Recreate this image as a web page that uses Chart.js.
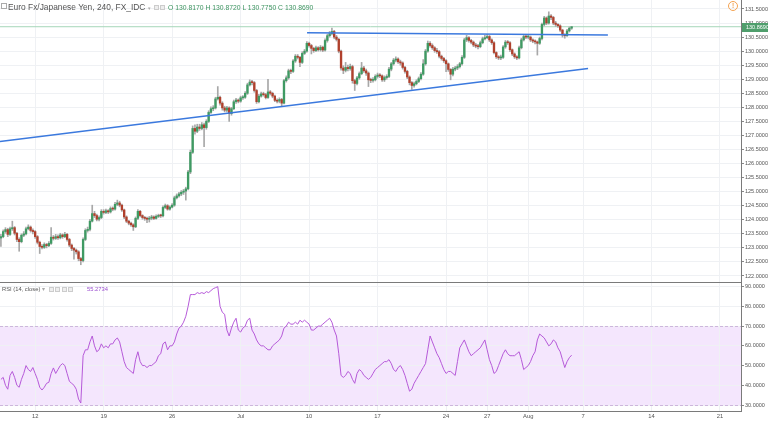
<!DOCTYPE html>
<html>
<head>
<meta charset="utf-8">
<script src="https://cdn.jsdelivr.net/npm/chart.js@4"></script>
<style>
  body{margin:0;background:#fff;width:768px;height:421px;overflow:hidden;position:relative;font-family:'Liberation Sans',Arial,sans-serif;}
  canvas{position:absolute;left:0;}
  #main{top:0;}
  #rsi{top:283px;}
  .t{position:absolute;white-space:nowrap;}
  .box{display:inline-block;width:3px;height:3px;border:1px solid #ccc;background:#eee;margin-left:1.5px;vertical-align:middle;}
</style>
</head>
<body>
<canvas id="main" width="768" height="283"></canvas>
<canvas id="rsi" width="768" height="138"></canvas>

<div class="t" style="left:1px;top:3px;width:4px;height:4px;border:1px solid #aaa;"></div>
<div class="t" style="left:8px;top:2px;font-size:8.4px;color:#555;">Euro Fx/Japanese Yen, 240, FX_IDC <span style="font-size:5px;color:#aaa">&#9662;</span><span class="box" style="margin-left:3px"></span><span class="box"></span></div>
<div class="t" id="ohlc" style="left:168px;top:3.5px;font-size:6.8px;color:#3d9460;"></div>
<div class="t" style="left:728px;top:1px;width:8px;height:8px;border:1px solid #f3a250;border-radius:50%;font-size:6.5px;font-weight:bold;color:#f3a250;text-align:center;line-height:8px;">!</div>

<div class="t" style="left:2px;top:286px;font-size:5.8px;color:#555;">RSI (14, close) <span style="color:#aaa">&#9662;</span><span class="box" style="margin-left:4px"></span><span class="box"></span><span class="box"></span><span class="box"></span></div>
<div class="t" id="rsival" style="left:87px;top:286px;font-size:5.8px;color:#9b4fcf;"></div>

<script>
// EUR/JPY 4h candles, FX_IDC, mid June -> 4 Aug 2017
const firstOpen = 123.35;

const closes = [
123.40,123.58,123.65,123.48,123.68,123.72,123.52,123.30,123.22,123.45,
123.50,123.68,123.74,123.62,123.58,123.40,123.20,123.05,123.02,123.12,
123.08,123.16,123.38,123.34,123.40,123.36,123.46,123.40,123.48,123.30,
123.10,122.98,122.92,122.86,122.62,122.55,123.30,123.62,123.66,123.95,
124.22,124.15,124.02,124.08,124.30,124.26,124.32,124.28,124.40,124.38,
124.55,124.60,124.52,124.35,124.10,123.95,123.88,123.82,123.75,124.05,
124.30,124.15,124.08,124.05,
124.02,124.06,124.10,124.05,124.12,124.15,124.14,124.44,124.50,124.38,
124.45,124.52,124.78,124.85,124.92,124.98,125.02,125.10,125.70,126.40,
127.25,127.15,127.30,127.25,127.38,127.28,127.50,127.82,127.95,127.98,
128.30,128.36,128.15,127.98,127.90,127.98,127.78,127.95,128.20,128.26,
128.22,128.34,128.36,128.50,128.80,128.90,128.88,128.60,128.20,128.40,
128.48,128.45,128.35,128.55,128.50,128.40,128.25,128.22,128.28,128.15,
128.95,129.05,129.30,
129.28,129.65,129.82,129.78,129.60,129.92,130.00,130.28,130.20,130.10,
130.02,130.12,130.05,130.14,130.04,130.38,130.55,130.62,130.70,130.50,
130.42,130.00,129.40,129.32,129.42,129.38,129.45,128.95,128.85,129.05,
129.20,129.40,129.30,129.22,128.98,128.96,128.98,129.10,129.15,129.12,
128.98,129.06,129.10,129.36,129.55,129.68,129.72,129.62,129.58,129.42,
129.28,129.08,128.88,128.78,128.84,128.92,129.02,129.18,129.55,130.00,
130.28,130.20,130.12,130.02,
129.98,129.82,129.74,129.66,129.55,129.35,129.18,129.36,129.40,129.45,
129.55,129.78,130.40,130.48,130.38,130.32,130.22,130.18,130.16,130.30,
130.44,130.48,130.52,130.40,130.30,129.95,129.80,129.76,129.78,130.15,
130.32,130.30,130.05,129.90,129.80,129.76,130.12,130.40,130.52,130.50,
130.50,130.40,130.36,130.33,130.28,130.45,130.95,131.18,131.00,131.25,
131.20,131.00,130.95,130.90,130.75,130.58,130.55,130.72,130.817,130.869
];

const highs = [
123.48,123.64,123.72,123.70,123.74,123.95,123.76,123.55,123.36,123.50,
123.58,123.74,123.82,123.78,123.68,123.62,123.44,123.24,123.12,123.18,
123.16,123.22,123.72,123.44,123.48,123.46,123.52,123.50,123.55,123.52,
123.34,123.14,123.02,122.96,122.90,122.66,123.36,123.68,123.74,124.02,
124.52,124.30,124.20,124.14,124.36,124.36,124.38,124.36,124.46,124.46,
124.62,124.70,124.66,124.56,124.38,124.14,123.98,123.92,123.86,124.10,
124.36,124.34,124.18,124.12,
124.10,124.12,124.16,124.14,124.18,124.20,124.20,124.50,124.56,124.54,
124.50,124.58,124.84,124.92,124.98,125.04,125.08,125.16,125.76,126.48,
127.34,127.38,127.40,127.40,127.46,127.44,127.56,127.88,128.02,128.06,
128.36,128.74,128.40,128.20,128.04,128.04,128.02,128.00,128.26,128.32,
128.30,128.40,128.42,128.56,128.86,128.98,128.96,128.92,128.64,128.46,
128.54,128.54,128.50,129.00,128.60,128.54,128.44,128.30,128.34,128.32,
129.00,129.12,129.36,
129.36,129.70,129.88,129.88,129.82,129.98,130.06,130.34,130.32,130.24,
130.14,130.18,130.16,130.20,130.18,130.44,130.60,130.70,130.82,130.74,
130.56,130.46,130.04,129.48,129.60,129.50,129.54,129.50,129.00,129.10,
129.26,129.60,129.46,129.36,129.26,129.04,129.06,129.16,129.22,129.20,
129.16,129.12,129.16,129.42,129.60,129.74,129.80,129.76,129.68,129.62,
129.46,129.32,129.12,128.92,128.90,128.98,129.08,129.24,129.70,130.06,
130.36,130.34,130.26,130.16,
130.10,130.02,129.86,129.78,129.70,129.58,129.38,129.42,129.46,129.52,
129.60,129.84,130.46,130.56,130.52,130.42,130.36,130.28,130.24,130.36,
130.50,130.56,130.60,130.56,130.44,130.34,129.98,129.84,129.86,130.20,
130.38,130.38,130.34,130.08,129.94,129.84,130.18,130.46,130.58,130.58,
130.56,130.54,130.44,130.40,130.36,130.50,131.00,131.24,131.22,131.40,
131.30,131.24,131.06,130.98,130.94,130.78,130.62,130.78,130.86,130.872
];

const lows = [
123.05,123.36,123.52,123.40,123.44,123.62,123.46,123.22,122.88,123.18,
123.40,123.46,123.64,123.56,123.50,123.34,123.14,122.80,122.96,122.98,
123.00,123.04,123.12,123.28,123.30,123.30,123.32,123.34,123.36,123.24,
123.04,122.90,122.60,122.78,122.54,122.40,122.50,123.26,123.56,123.60,
123.92,124.08,123.96,123.96,124.04,124.20,124.22,124.22,124.24,124.32,
124.34,124.50,124.46,124.30,124.04,123.90,123.82,123.76,123.62,123.72,
124.00,124.10,124.02,123.98,
123.90,123.92,124.00,124.00,124.02,124.08,124.08,124.10,124.40,124.34,
124.34,124.42,124.48,124.74,124.80,124.86,124.90,124.70,125.06,125.64,
126.36,127.05,127.10,127.18,127.20,126.60,127.22,127.46,127.78,127.88,
127.94,128.26,128.08,127.90,127.84,127.84,127.50,127.72,127.92,128.14,
128.16,128.18,128.28,128.32,128.46,128.76,128.80,128.54,128.14,128.16,
128.36,128.40,128.30,128.32,128.44,128.34,128.20,128.16,128.16,128.04,
128.12,128.90,129.00,
129.20,129.24,129.60,129.72,129.45,129.56,129.88,129.96,130.14,129.90,
129.96,129.98,130.00,130.00,129.98,130.00,130.32,130.50,130.58,130.44,
130.36,129.94,129.32,129.20,129.26,129.30,129.32,128.86,128.60,128.80,
129.00,129.16,129.24,129.14,128.74,128.88,128.90,128.94,129.04,129.06,
128.92,128.92,129.00,129.06,129.30,129.50,129.62,129.56,129.50,129.36,
129.22,129.02,128.80,128.64,128.72,128.80,128.88,128.98,129.14,129.50,
129.96,130.14,130.06,129.96,
129.92,129.76,129.68,129.60,129.27,129.28,128.98,129.12,129.30,129.34,
129.40,129.50,129.74,130.34,130.32,130.26,130.16,130.12,130.08,130.12,
130.26,130.40,130.44,130.34,130.24,129.90,129.74,129.70,129.70,129.74,
130.10,130.24,129.98,129.84,129.74,129.70,129.72,130.08,130.36,130.44,
130.44,130.34,130.30,130.26,129.86,130.24,130.40,130.90,130.94,130.96,
131.12,130.94,130.88,130.84,130.70,130.50,130.46,130.52,130.68,130.775
];

// RSI(14) one value per bar
const rsi = [
43,44,40,38,45,47,44,40,39,43,
46,50,48,47,49,46,43,39,37.6,39,
41,41.5,46,48.8,46,48,50,51,50,46,
42,41,40,38,33,31,55,58,58,62,
65,60,57,58,61,59,60,59,61,61,
63,64,62,57,52,49,48,47,46,53,
57,52,50,50,49,50,50,51,52,55,
56,61,62,58,60,60,62,66,69,70,
72,75,80,86,86,86,87,86.5,87,86.5,
87.5,87,88,89,89.5,90,80,77,76,68,
65,69,72,74,68,67,69,70,73,74,
68,66,63,61,60,60,59,58,58,60,
61,62,63,65,69,70,72,71,71,72,
71,73,72,73,72,71,68,68,69,70,
70,71,72,73,74,72,68,65,56,45,
44,45,47,46,43,41,46,48,47,45,
44,43,44,46,48,49,50,51,52,52,
53,51,48,47,49,50,48,45,41,37,
38,41,43,45,47,49,51,58,65,62,
59,56,54,51,48,46,47,47,46,45,
52,59,61,63,60,57,55,56,57,58,
59,61,63,58,53,50,46,47,50,53,
56,58,56,55,55,55,56,57,53,48,
49,50,52,55,57,63,66,65,64,62,
60,61,63,62,59,57,53,49,52,54,
55.2734
];
const rsiBand = [30, 70];

// time axis: trading days counted from Mon 12 Jun, 6 bars a day
const firstBarDay = -2.5;
const tickDays = [0, 5, 10, 15, 20, 25, 30, 33, 36, 40, 45, 50];
const tickLabels = ['12', '19', '26', 'Jul', '10', '17', '24', '27', 'Aug', '7', '14', '21'];

// drawn trend lines: [bar, price] pairs
const trendLines = [
  [[134.1, 130.653], [265.9, 130.575]],
  [[-0.4, 126.785], [257.2, 129.383]]
];

const FONT = "'Liberation Sans', Arial, sans-serif";
const UP = '#3f9a63', DOWN = '#b0402c';
const XMIN = -0.4, XMAX = 324.2;

const opens = closes.map((c, i) => i === 0 ? firstOpen : closes[i - 1]);
const last = closes.length - 1;
const tickVals = tickDays.map(d => (d - firstBarDay) * 6);

document.getElementById('ohlc').textContent =
  'O ' + opens[last].toFixed(4) + ' H ' + highs[last].toFixed(4) +
  ' L ' + lows[last].toFixed(4) + ' C ' + closes[last].toFixed(4);
document.getElementById('rsival').textContent = rsi[last].toFixed(4);

function fixY(s) { s.width = 27; s.paddingTop = 0; s.paddingBottom = 0; }
function setTicks(s) { s.ticks = tickVals.map(v => ({value: v})); }

const lastPriceLabel = {
  id: 'lastPrice',
  afterDraw(chart) {
    const ctx = chart.ctx, y = chart.scales.y.getPixelForValue(closes[last]);
    const x = chart.chartArea.right + 1;
    ctx.save();
    ctx.fillStyle = '#4f9e6c';
    ctx.fillRect(x, Math.round(y) - 4, 27, 9);
    ctx.fillStyle = '#fff';
    ctx.font = '5.5px ' + FONT;
    ctx.textBaseline = 'middle';
    ctx.fillText(closes[last].toFixed(4), x + 4, Math.round(y) + 0.5);
    ctx.restore();
  }
};

new Chart(document.getElementById('main'), {
  type: 'bar',
  data: {
    datasets: [
      ...trendLines.map(t => ({
        type: 'line', data: t.map(p => ({x: p[0], y: p[1]})),
        borderColor: '#3b79de', borderWidth: 1.5, pointRadius: 0, order: 0
      })),
      {
        data: closes.map((c, i) => ({x: i, y: [opens[i], c]})),
        backgroundColor: closes.map((c, i) => c >= opens[i] ? UP : DOWN),
        barThickness: 1.7, grouped: false, minBarLength: 1, order: 1
      },
      {
        data: closes.map((c, i) => ({x: i, y: [lows[i], highs[i]]})),
        backgroundColor: '#a8a8a8', barThickness: 1, grouped: false, order: 2
      },
      {
        type: 'line', data: [{x: XMIN, y: closes[last]}, {x: XMAX, y: closes[last]}],
        borderColor: '#a6d6b9', borderWidth: 1, pointRadius: 0, order: 3
      }
    ]
  },
  options: {
    responsive: false, animation: false,
    layout: {padding: 0},
    plugins: {legend: {display: false}, tooltip: {enabled: false}},
    scales: {
      x: {
        type: 'linear', min: XMIN, max: XMAX, offset: false,
        ticks: {display: false},
        grid: {color: '#eff1f4', drawTicks: false, offset: false},
        border: {display: true, color: '#7a7a7a'},
        afterBuildTicks: setTicks,
        afterFit: s => { s.height = 1; }
      },
      y: {
        position: 'right', min: 121.786, max: 131.82, beginAtZero: false,
        ticks: {stepSize: 0.5, includeBounds: false, padding: 1, color: '#555',
          font: {size: 5.5, family: FONT}, callback: v => v.toFixed(4)},
        grid: {color: '#eff1f4', tickColor: '#888', tickLength: 3},
        border: {color: '#7a7a7a'},
        afterFit: fixY
      }
    }
  },
  plugins: [lastPriceLabel]
});

const band = {
  id: 'band',
  beforeDraw(chart) {
    const {ctx, chartArea: a, scales: {y}} = chart;
    const y1 = y.getPixelForValue(rsiBand[1]), y0 = y.getPixelForValue(rsiBand[0]);
    ctx.save();
    ctx.fillStyle = '#f4e6fd';
    ctx.fillRect(a.left, y1, a.right - a.left, y0 - y1);
    ctx.restore();
  },
  beforeDatasetsDraw(chart) {
    const {ctx, chartArea: a, scales: {y}} = chart;
    ctx.save();
    ctx.strokeStyle = '#cdb6dc';
    ctx.lineWidth = 1;
    ctx.setLineDash([3, 2]);
    rsiBand.forEach(v => {
      const yy = Math.round(y.getPixelForValue(v)) + 0.5;
      ctx.beginPath(); ctx.moveTo(a.left, yy); ctx.lineTo(a.right, yy); ctx.stroke();
    });
    ctx.restore();
  }
};

new Chart(document.getElementById('rsi'), {
  type: 'line',
  data: {
    datasets: [{
      data: rsi.map((v, i) => ({x: i, y: v})),
      borderColor: '#b65ad9', borderWidth: 1, pointRadius: 0, tension: 0
    }]
  },
  options: {
    responsive: false, animation: false,
    layout: {padding: 0},
    plugins: {legend: {display: false}, tooltip: {enabled: false}},
    scales: {
      x: {
        type: 'linear', min: XMIN, max: XMAX,
        ticks: {autoSkip: false, maxRotation: 0, padding: 2, color: '#555',
          font: {size: 5.8, family: FONT}, callback: (v, i) => tickLabels[i]},
        grid: {color: '#eff1f4', drawTicks: false},
        border: {display: true, color: '#7a7a7a'},
        afterBuildTicks: setTicks,
        afterFit: s => { s.height = 10; }
      },
      y: {
        position: 'right', min: 26.96, max: 91.87,
        ticks: {stepSize: 10, includeBounds: false, padding: 1, color: '#555',
          font: {size: 5.5, family: FONT}, callback: v => v.toFixed(4)},
        grid: {color: '#eff1f4', tickColor: '#888', tickLength: 3},
        border: {color: '#7a7a7a'},
        afterFit: fixY
      }
    }
  },
  plugins: [band]
});
</script>
</body>
</html>
